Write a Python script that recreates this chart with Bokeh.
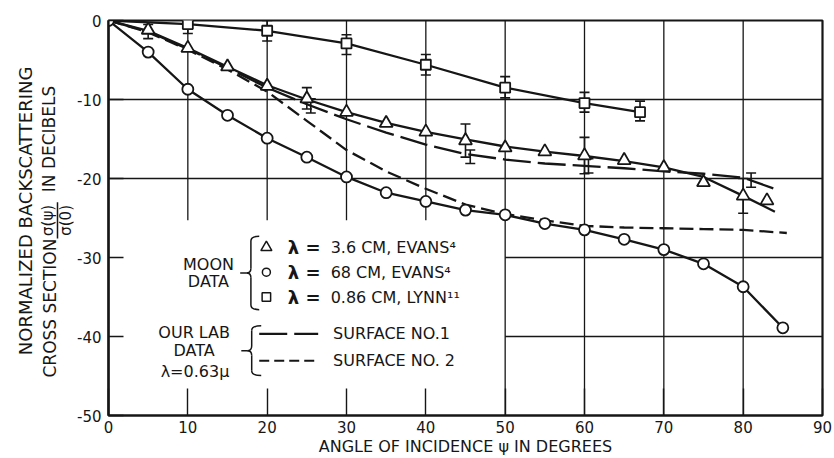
import numpy as np
from bokeh.plotting import figure
from bokeh.layouts import row
from bokeh.models import ColumnDataSource, FixedTicker, Whisker, TeeHead
from bokeh.core.properties import value
from bokeh.embed import file_html
from bokeh.resources import INLINE

FONT = "DejaVu Sans"
INK = "#161616"
W, H = 834, 458
TITLE_W = 74   # strip on the left that carries the vertical axis title
TOP, BOTTOM = 20, 41

# ---- axes -------------------------------------------------------------
x_ticks = [0, 10, 20, 30, 40, 50, 60, 70, 80, 90]
y_ticks = [0, -10, -20, -30, -40, -50]
y_tick_labels = ["0", "-10", "-20", "-30", "-40", "-50"]

# ---- moon data, lambda = 3.6 cm (Evans) -------------------------------
tri_angle = [5, 10, 15, 20, 25, 30, 35, 40, 45, 50, 55, 60, 65, 70, 75, 80, 83]
tri_db = [-1.2, -3.5, -5.85, -8.3, -9.9, -11.6, -13.0, -14.1, -15.2, -16.1,
          -16.6, -17.1, -17.7, -18.6, -20.5, -22.2, -22.8]
tri_err_angle = [5, 25, 45, 60, 80]
tri_err_lo = [-2.3, -11.2, -17.3, -19.4, -24.4]
tri_err_hi = [-0.5, -8.5, -13.1, -14.8, -20.0]
tri_curve_angle = [0, 5, 10, 15, 20, 25, 30, 35, 40, 45, 50, 55, 60, 65, 70, 75, 80, 84]
tri_curve_db = [0, -1.3, -3.5, -5.85, -8.2, -10.0, -11.6, -12.95, -14.1, -15.05,
                -15.95, -16.6, -17.15, -17.8, -18.6, -19.8, -22.2, -24.2]

# ---- moon data, lambda = 68 cm (Evans) --------------------------------
circ_angle = [0, 5, 10, 15, 20, 25, 30, 35, 40, 45, 50, 55, 60, 65, 70, 75, 80, 85]
circ_db = [0, -4.0, -8.7, -12.0, -14.9, -17.3, -19.8, -21.8, -22.9, -24.0,
           -24.6, -25.7, -26.5, -27.7, -29.0, -30.8, -33.7, -38.9]

# ---- moon data, lambda = 0.86 cm (Lynn) -------------------------------
sq_angle = [10, 20, 30, 40, 50, 60, 67]
sq_db = [-0.45, -1.3, -2.9, -5.6, -8.5, -10.45, -11.6]
sq_err_lo = [-1.65, -2.6, -4.3, -6.9, -9.8, -11.6, -12.7]
sq_err_hi = [0.75, 0.0, -1.8, -4.3, -7.1, -9.1, -10.2]
sq_curve_angle = [0, 10, 20, 30, 40, 50, 60, 67]
sq_curve_db = [0, -0.45, -1.3, -2.9, -5.6, -8.5, -10.45, -11.6]

# ---- laboratory data, lambda = 0.63 micron ----------------------------
surf1_angle = [0, 5, 10, 15, 20, 25, 30, 35, 40, 45, 50, 55, 60, 65, 70, 75, 80, 84.5]
surf1_db = [0, -1.4, -3.6, -6.0, -8.5, -10.6, -12.5, -14.2, -15.7, -16.9,
            -17.6, -18.1, -18.4, -18.7, -19.1, -19.4, -19.9, -21.5]
surf1_err_angle = [25.5, 45.6, 60.5, 81]
surf1_err_lo = [-11.7, -18.1, -19.3, -21.1]
surf1_err_hi = [-9.9, -16.4, -17.5, -19.3]

surf2_angle = [0, 5, 10, 15, 20, 25, 30, 35, 40, 45, 50, 55, 60, 65, 70, 75, 80, 85.5]
surf2_db = [0, -1.5, -3.7, -6.2, -9.0, -12.7, -16.4, -19.1, -21.3, -23.3,
            -24.5, -25.3, -26.0, -26.2, -26.3, -26.4, -26.5, -26.9]

# ---- legend entries ---------------------------------------------------
moon_values = ["3.6 CM, EVANS\u2074", "68 CM, EVANS\u2074", "0.86 CM, LYNN\u00b9\u00b9"]
lab_values = ["SURFACE NO.1", "SURFACE NO. 2"]

p = figure(width=W - TITLE_W, height=H, x_range=(0, 90), y_range=(-50, 0),
           output_backend="svg", toolbar_location=None, title=None,
           min_border_left=107 - TITLE_W, min_border_right=12, min_border_top=TOP,
           min_border_bottom=BOTTOM, background_fill_color="white",
           border_fill_color="white")
p.xgrid.visible = False
p.ygrid.visible = False
p.outline_line_color = INK
p.outline_line_width = 2.2

for ax in (p.xaxis[0], p.yaxis[0]):
    ax.axis_line_color = INK
    ax.axis_line_width = 2.2
    ax.major_tick_line_color = INK
    ax.major_tick_line_width = 1.4
    ax.major_tick_out = 0
    ax.minor_tick_in = 0
    ax.minor_tick_out = 0
    ax.major_label_text_font = FONT
    ax.major_label_text_font_size = "15px"
    ax.major_label_text_color = INK

p.xaxis.ticker = FixedTicker(ticks=x_ticks)
p.xaxis.major_tick_in = 27
p.xaxis.major_label_standoff = 5
p.xaxis.axis_label = "ANGLE OF INCIDENCE \u03c8 IN DEGREES"
p.xaxis.axis_label_text_font = FONT
p.xaxis.axis_label_text_font_size = "16px"
p.xaxis.axis_label_text_font_style = "normal"
p.xaxis.axis_label_text_color = INK
p.xaxis.axis_label_standoff = 1

p.yaxis.ticker = FixedTicker(ticks=y_ticks)
p.yaxis.major_label_overrides = {t: s for t, s in zip(y_ticks, y_tick_labels)}
p.yaxis.major_tick_in = 15
p.yaxis.major_label_standoff = 7

# ---- partial grid ------------------------------------------------------
# vertical lines left of 50 deg stop above the key; horizontal lines
# below -20 dB only run right of the key
vx = [t for t in x_ticks if 0 < t < 90]
v_bottom = [-25.3 if t < 50 else -50 for t in vx]
p.segment(x0=vx, y0=[0] * len(vx), x1=vx, y1=v_bottom, line_color=INK, line_width=1.3)
hy = [t for t in y_ticks if -50 < t < 0]
h_left = [0 if t > -25 else 50 for t in hy]
p.segment(x0=h_left, y0=hy, x1=[90] * len(hy), y1=hy, line_color=INK, line_width=1.3)

# ---- curves -------------------------------------------------------------
LW = 2.3
p.line(surf2_angle, surf2_db, line_color=INK, line_width=LW, line_dash="14 6")
p.line(surf1_angle, surf1_db, line_color=INK, line_width=LW, line_dash="28 7")
p.line(circ_angle, circ_db, line_color=INK, line_width=LW)
p.line(tri_curve_angle, tri_curve_db, line_color=INK, line_width=LW)
p.line(sq_curve_angle, sq_curve_db, line_color=INK, line_width=LW)

# ---- error bars ---------------------------------------------------------
def bars(xs, lo, hi):
    src = ColumnDataSource(dict(x=xs, lo=lo, hi=hi))
    w = Whisker(base="x", lower="lo", upper="hi", source=src,
                line_color=INK, line_width=1.6,
                upper_head=TeeHead(size=10, line_color=INK, line_width=1.6),
                lower_head=TeeHead(size=10, line_color=INK, line_width=1.6))
    p.add_layout(w)

bars(tri_err_angle, tri_err_lo, tri_err_hi)
bars(sq_angle, sq_err_lo, sq_err_hi)
bars(surf1_err_angle, surf1_err_lo, surf1_err_hi)

# ---- markers ------------------------------------------------------------
mk = dict(fill_color="white", line_color=INK, line_width=1.8)
p.scatter(sq_angle, sq_db, marker="square", size=10, **mk)
p.scatter(tri_angle, tri_db, marker="triangle", size=13, **mk)
p.scatter(circ_angle, circ_db, marker="circle", size=11, **mk)

# ---- key ----------------------------------------------------------------
def txt(fig, x, y, s, size="16px", align="left", style="normal", angle=0.0):
    fig.text(x=x, y=y, text=s, text_font=value(FONT), text_font_size=value(size),
             text_align=align, text_baseline="middle", text_color=INK,
             text_font_style=style, angle=angle)

def brace(x_end, x_spine, x_tip, x_stub, y_top, y_bot, ry=0.6):
    y_mid = (y_top + y_bot) / 2
    kw = dict(line_color=INK, line_width=1.5)
    p.quadratic(x0=[x_end, x_spine, x_tip, x_spine],
                y0=[y_top, y_mid + ry, y_mid, y_bot + ry],
                x1=[x_spine, x_tip, x_spine, x_end],
                y1=[y_top - ry, y_mid, y_mid - ry, y_bot],
                cx=[x_spine, x_spine, x_spine, x_spine],
                cy=[y_top, y_mid, y_mid, y_bot], **kw)
    p.segment(x0=[x_spine, x_spine, x_stub], y0=[y_top - ry, y_mid - ry, y_mid],
              x1=[x_spine, x_spine, x_tip], y1=[y_mid + ry, y_bot + ry, y_mid], **kw)

row_y = [-28.72, -31.86, -35.01]
txt(p, [12.6, 12.6], [-30.86, -33.0], ["MOON", "DATA"], align="center")
brace(19.0, 17.95, 17.4, 16.6, -27.3, -36.6)
p.scatter([19.9], [row_y[0]], marker="triangle", size=11, fill_color="white", line_color=INK, line_width=1.5)
p.scatter([19.9], [row_y[1]], marker="circle", size=8, fill_color="white", line_color=INK, line_width=1.5)
p.scatter([19.9], [row_y[2]], marker="square", size=8.5, fill_color="white", line_color=INK, line_width=1.5)
txt(p, [22.6] * 3, row_y, ["\u03bb ="] * 3, size="18px", style="bold")
txt(p, [28.0] * 3, row_y, moon_values)

lab_y = [-39.67, -43.07]
txt(p, [10.8, 10.8, 10.9], [-39.55, -41.75, -44.4], ["OUR LAB", "DATA", "\u03bb=0.63\u03bc"], align="center")
brace(19.25, 18.05, 17.5, 16.74, -38.65, -44.95)
p.line([19.0, 26.43], [lab_y[0]] * 2, line_color=INK, line_width=2.2, line_dash="28 7")
p.line([19.0, 26.43], [lab_y[1]] * 2, line_color=INK, line_width=2.2, line_dash="10 5")
txt(p, [28.3] * 2, lab_y, lab_values)

# ---- vertical axis title strip ------------------------------------------
# same vertical layout as the chart, so positions are given in dB;
# horizontal positions are in pixels across the strip
t = figure(width=TITLE_W, height=H, x_range=(0, TITLE_W), y_range=(-50, 0),
           output_backend="svg", toolbar_location=None, title=None,
           x_axis_location=None, y_axis_location=None,
           min_border_left=0, min_border_right=0, min_border_top=TOP,
           min_border_bottom=BOTTOM, background_fill_color="white",
           border_fill_color="white", outline_line_color=None)
t.grid.visible = False
up = np.pi / 2
txt(t, [25], [-24.1], ["NORMALIZED BACKSCATTERING"], size="18px", align="center", angle=up)
txt(t, [49.5], [-36.4], ["CROSS SECTION"], size="17px", align="center", angle=up)
txt(t, [48.5], [-15.0], ["IN DECIBELS"], size="17px", align="center", angle=up)
txt(t, [47], [-25.3], ["\u03c3(\u03c8)"], size="15px", align="center", angle=up)
txt(t, [65], [-25.3], ["\u03c3(0)"], size="15px", align="center", angle=up)
t.segment(x0=[57], y0=[-23.0], x1=[57], y1=[-27.6], line_color=INK, line_width=1.5)

layout = row(t, p, spacing=0)
open("out.html", "w").write(file_html(layout, INLINE))
